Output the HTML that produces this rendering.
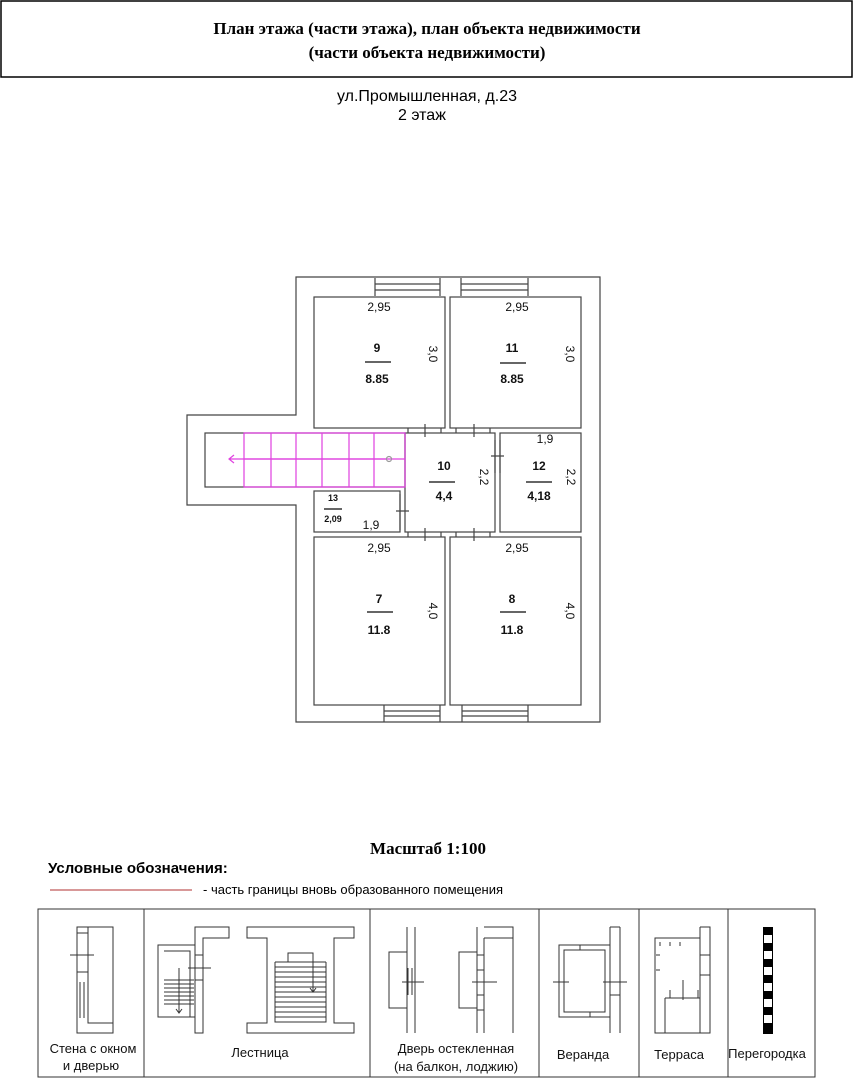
<!DOCTYPE html>
<html><head><meta charset="utf-8"><style>
body{margin:0;background:#fff;width:855px;height:1080px;overflow:hidden;font-family:"Liberation Sans",sans-serif}
svg{position:absolute;left:0;top:0}
</style></head><body>
<svg width="855" height="1080" viewBox="0 0 855 1080" font-family="Liberation Sans, sans-serif">
<rect x="1" y="1" width="851" height="76" fill="none" stroke="#000" stroke-width="1.5"/>
<text x="427" y="34" text-anchor="middle" font-family="Liberation Serif, serif" font-weight="bold" font-size="17">План этажа (части этажа), план объекта недвижимости</text>
<text x="427" y="58" text-anchor="middle" font-family="Liberation Serif, serif" font-weight="bold" font-size="17">(части объекта недвижимости)</text>
<text x="337" y="101" font-size="16">ул.Промышленная, д.23</text>
<text x="398" y="120" font-size="16">2  этаж</text>
<g fill="none" stroke="#444" stroke-width="1.2">
<path d="M296 277H600V722H296V505H187V415H296Z"/>
<rect x="314" y="297" width="131" height="131"/>
<rect x="450" y="297" width="131" height="131"/>
<rect x="205" y="433" width="200" height="54"/>
<rect x="405" y="433" width="90" height="99"/>
<rect x="500" y="433" width="81" height="99"/>
<rect x="314" y="491" width="86" height="41"/>
<rect x="314" y="537" width="131" height="168"/>
<rect x="450" y="537" width="131" height="168"/>
<path d="M375 278V296M440 278V296M375 284H440M375 290H440M461 278V296M528 278V296M461 284H528M461 290H528"/>
<path d="M384 705V722M440 705V722M384 711H440M384 716H440M462 705V722M528 705V722M462 711H528M462 716H528"/>
<path d="M408 428V433M441 428V433M425 424V437M456 428V433M490 428V433M474 424V437M408 532V537M441 532V537M425 528V541M456 532V537M490 532V537M474 528V541M495 440V473M500 440V473M491 456H504M400 494V530M396 511H409"/>
</g>
<g fill="none" stroke="#e040e0" stroke-width="1.2">
<path d="M244 433H405V487H244ZM271 433V487M296 433V487M322 433V487M349 433V487M374 433V487M244 459H405"/>
<path d="M230 459H387M234 455L229 459L234 463"/>
<circle cx="389" cy="459" r="2.5" stroke="#999"/>
</g>
<g font-size="12" fill="#111">
<text x="379" y="311" text-anchor="middle">2,95</text>
<text x="517" y="311" text-anchor="middle">2,95</text>
<text x="379" y="552" text-anchor="middle">2,95</text>
<text x="517" y="552" text-anchor="middle">2,95</text>
<text x="545" y="443" text-anchor="middle">1,9</text>
<text x="371" y="529" text-anchor="middle">1,9</text>
<text transform="translate(429,354) rotate(90)" text-anchor="middle">3,0</text>
<text transform="translate(566,354) rotate(90)" text-anchor="middle">3,0</text>
<text transform="translate(480,477) rotate(90)" text-anchor="middle">2,2</text>
<text transform="translate(567,477) rotate(90)" text-anchor="middle">2,2</text>
<text transform="translate(429,611) rotate(90)" text-anchor="middle">4,0</text>
<text transform="translate(566,611) rotate(90)" text-anchor="middle">4,0</text>
</g>
<g font-size="12" font-weight="bold" text-anchor="middle" fill="#111">
<text x="377" y="352">9</text><text x="377" y="383">8.85</text>
<text x="512" y="352">11</text><text x="512" y="383">8.85</text>
<text x="444" y="470">10</text><text x="444" y="500">4,4</text>
<text x="539" y="470">12</text><text x="539" y="500">4,18</text>
<text x="379" y="603">7</text><text x="379" y="634">11.8</text>
<text x="512" y="603">8</text><text x="512" y="634">11.8</text>
<text x="333" y="501" font-size="9">13</text><text x="333" y="522" font-size="9">2,09</text>
</g>
<g stroke="#333" stroke-width="1.5">
<path d="M365 362H391M500 363H526M429 482H455M526 482H552M367 612H393M500 612H526M324 509H342"/>
</g>
<text x="428" y="854" text-anchor="middle" font-family="Liberation Serif, serif" font-weight="bold" font-size="17">Масштаб 1:100</text>
<text x="48" y="873" font-weight="bold" font-size="15">Условные обозначения:</text>
<line x1="50" y1="890" x2="192" y2="890" stroke="#b03030" stroke-width="1"/>
<text x="203" y="894" font-size="13">- часть границы вновь образованного помещения</text>
<g fill="none" stroke="#333" stroke-width="1">
<rect x="38" y="909" width="777" height="168"/>
<path d="M144 909V1077M370 909V1077M539 909V1077M639 909V1077M728 909V1077"/>
<!-- wall -->
<path d="M77 927H113V1033H77ZM88 927V1023H113M77 933H88M77 972H88M70 955H94M80 982V1018M84 982V1018"/>
<!-- stair 1 -->
<path d="M229 927H195V1033H203V938H229Z"/>
<path d="M195 945H158V1017H195M164 951H190V1017M164 980H194M164 984H194M164 988H194M164 992H194M164 996H194M164 1000H194M164 1004H194M179 968V1012M176 1009L179 1013L182 1009M195 955H203M195 980H203M188 968H211"/>
<!-- stair 2 -->
<path d="M247 927H354V938H334V1023H354V1033H247V1023H267V938H247Z"/>
<path d="M275 962H326M275 967H326M275 972H326M275 977H326M275 982H326M275 987H326M275 992H326M275 997H326M275 1002H326M275 1007H326M275 1012H326M275 1017H326M275 962V1022H326V962M288 962V953H313V992M310 988L313 992L316 988"/>
<!-- door 1 -->
<path d="M407 927V1033M415 927V1033M389 952H407V1008H389ZM402 982H424M408 968V995M412 968V995"/>
<!-- door 2 -->
<path d="M477 927V1033M484 938V1033M484 927H513V938H484M513 938V1033M459 952H477V1008H459ZM477 955H484M477 970H484M477 995H484M477 1010H484M472 982H497"/>
<!-- veranda -->
<path d="M610 927V1033M620 927V1033M610 927H620M559 945H610V1017H559ZM564 950H605V1012H564ZM580 945V950M590 1012V1017M553 982H569M610 995H620M603 982H627"/>
<!-- terrace -->
<path d="M700 927H710V1033H655V938H700M700 927V1033M665 998H700M665 998V1033M670 990V998M698 990V998M683 980V1000M700 955H710M700 975H710"/>
</g>
<g fill="none" stroke="#333"><path d="M660 942v4M670 942v4M680 942v4M656 955h4M656 970h4"/></g>
<rect x="763" y="927" width="10" height="107" fill="#000"/>
<path d="M764 935h8v8h-8zM764 951h8v8h-8zM764 967h8v8h-8zM764 983h8v8h-8zM764 999h8v8h-8zM764 1015h8v8h-8z" fill="#fff"/>
<g font-size="13" text-anchor="middle" fill="#111">
<text x="93" y="1053">Стена с окном</text><text x="91" y="1070">и дверью</text>
<text x="260" y="1057">Лестница</text>
<text x="456" y="1053">Дверь остекленная</text><text x="456" y="1071">(на балкон, лоджию)</text>
<text x="583" y="1059">Веранда</text>
<text x="679" y="1059">Терраса</text>
<text x="767" y="1058">Перегородка</text>
</g>
</svg>
</body></html>
